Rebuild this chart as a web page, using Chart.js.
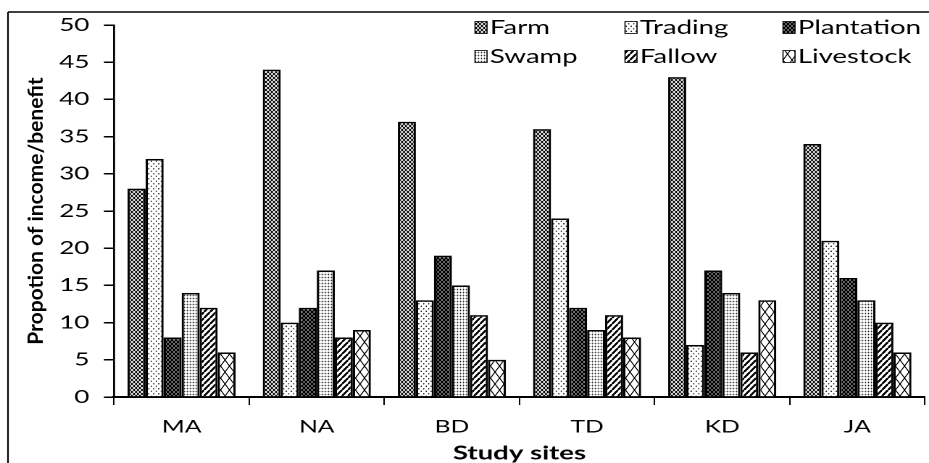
<!DOCTYPE html>
<html>
<head>
<meta charset="utf-8">
<title>Propotion of income/benefit by study site</title>
<script src="https://cdn.jsdelivr.net/npm/chart.js@4/dist/chart.umd.min.js"></script>
<style>
  html, body { margin: 0; padding: 0; background: #fff; overflow: hidden; }
  #chart { display: block; }
</style>
</head>
<body>
<canvas id="chart" width="641" height="463"></canvas>
<script>
// Study sites and the share of income/benefit from each source (%)
const sites      = ['MA', 'NA', 'BD', 'TD', 'KD', 'JA'];
const farm       = [28, 44, 37, 36, 43, 34];
const trading    = [32, 10, 13, 24,  7, 21];
const plantation = [ 8, 12, 19, 12, 17, 16];
const swamp      = [14, 17, 15,  9, 14, 13];
const fallow     = [12,  8, 11, 11,  6, 10];
const livestock  = [ 6,  9,  5,  8, 13,  6];
const seriesNames = ['Farm', 'Trading', 'Plantation', 'Swamp', 'Fallow', 'Livestock'];
const yTicks = { min: 0, max: 50, step: 5 };

// The canvas is drawn narrow and widened on screen (wide lettering);
// SX is that horizontal widening.
const SCREEN_W = 929, SCREEN_H = 463;
const SX = SCREEN_W / 641;
const RES = 4;

function makePattern(w, h, draw) {
  const cv = document.createElement('canvas');
  cv.width = w * RES; cv.height = h * RES;
  const g = cv.getContext('2d');
  g.scale(RES, RES);
  g.fillStyle = '#fff';
  g.fillRect(0, 0, w, h);
  g.strokeStyle = '#000';
  g.fillStyle = '#000';
  draw(g, w, h);
  const p = g.createPattern(cv, 'repeat');
  // keep the texture square on screen despite the widening
  p.setTransform(new DOMMatrix().scale(1 / (RES * SX), 1 / RES));
  return p;
}
function crossLines(g, w, h, lw) {
  g.lineWidth = lw;
  g.beginPath();
  for (const dx of [-w, 0, w]) {
    g.moveTo(dx, 0); g.lineTo(dx + w, h);
    g.moveTo(dx, h); g.lineTo(dx + w, 0);
  }
  g.stroke();
}

const fills = {
  Farm: makePattern(4, 4, (g, w, h) => crossLines(g, w, h, 0.9)),
  Trading: makePattern(5, 5, (g) => {
    g.beginPath(); g.arc(1.25, 1.25, 0.65, 0, Math.PI * 2); g.fill();
    g.beginPath(); g.arc(3.75, 3.75, 0.65, 0, Math.PI * 2); g.fill();
  }),
  Plantation: makePattern(4, 4, (g, w, h) => crossLines(g, w, h, 1.6)),
  Swamp: makePattern(3, 3, (g) => {
    g.fillStyle = '#b0b0b0';
    g.fillRect(0, 1, 3, 0.7);
    g.fillRect(1, 0, 0.7, 3);
    g.fillStyle = '#000';
    g.fillRect(1, 1, 0.8, 0.8);
  }),
  Fallow: makePattern(6, 6, (g, w, h) => {
    g.lineWidth = 2;
    g.beginPath();
    for (const dx of [-w, 0, w]) { g.moveTo(dx, h); g.lineTo(dx + w, 0); }
    g.stroke();
  }),
  Livestock: makePattern(9, 12, (g, w, h) => crossLines(g, w, h, 1))
};

const seriesValues = [farm, trading, plantation, swamp, fallow, livestock];

// Outer frame: top rule and left rule
const framePlugin = {
  id: 'frame',
  afterDraw(chart) {
    const c = chart.ctx;
    c.save();
    c.strokeStyle = '#000';
    c.lineWidth = 1.5;
    c.beginPath(); c.moveTo(5.5, 12); c.lineTo(chart.width, 12); c.stroke();
    c.lineWidth = 1.1;
    c.beginPath(); c.moveTo(5.5, 12); c.lineTo(5.5, chart.height); c.stroke();
    c.restore();
  }
};

// Vertical axis title, drawn un-widened
const yTitlePlugin = {
  id: 'yTitle',
  afterDraw(chart) {
    const c = chart.ctx, a = chart.chartArea;
    c.save();
    c.translate(36 / SX, (a.top + a.bottom) / 2);
    c.scale(1 / SX, 1);
    c.rotate(-Math.PI / 2);
    c.font = 'bold 21px Lato';
    c.fillStyle = '#000';
    c.textAlign = 'center';
    c.textBaseline = 'middle';
    c.fillText('Propotion of income/benefit', 0, 0);
    c.restore();
  }
};

// Two-row legend in the upper right
const legendPlugin = {
  id: 'gridLegend',
  afterDraw(chart) {
    const c = chart.ctx;
    const cols = [475, 625, 783].map(v => v / SX);
    const rows = [27.5, 56.5];
    const box = 12;
    c.save();
    c.font = '19px Lato';
    c.textBaseline = 'middle';
    c.textAlign = 'left';
    chart.data.datasets.forEach((ds, i) => {
      const x = cols[i % 3], y = rows[Math.floor(i / 3)];
      c.fillStyle = ds.backgroundColor;
      c.fillRect(x, y - box / 2, box / SX, box);
      c.strokeStyle = '#000';
      c.lineWidth = 0.8;
      c.strokeRect(x, y - box / 2, box / SX, box);
      c.fillStyle = '#000';
      c.fillText(ds.label, x + box / SX + 2, y + 0.5);
    });
    c.restore();
  }
};

const canvas = document.getElementById('chart');
new Chart(canvas, {
  type: 'bar',
  data: {
    labels: sites,
    datasets: seriesNames.map((name, i) => ({
      label: name,
      data: seriesValues[i],
      backgroundColor: fills[name],
      borderColor: '#000',
      borderWidth: 1.6,
      categoryPercentage: 0.8,
      barPercentage: 1.0
    }))
  },
  options: {
    responsive: false,
    animation: false,
    devicePixelRatio: 2,
    events: [],
    layout: { padding: { left: 0, right: 2.8, top: 25, bottom: 0 } },
    plugins: { legend: { display: false }, tooltip: { enabled: false } },
    scales: {
      x: {
        grid: { offset: true, drawOnChartArea: false, tickLength: 8, color: '#000', lineWidth: 1 },
        border: { color: '#000', width: 2 },
        ticks: { color: '#000', font: { family: 'Lato', size: 17 }, padding: 12 },
        title: {
          display: true, text: 'Study sites', color: '#000',
          font: { family: 'Lato', size: 19, weight: 'bold', lineHeight: 1 },
          padding: { top: 0, bottom: 0 }
        },
        afterFit(scale) { scale.height = 66; }
      },
      y: {
        min: yTicks.min, max: yTicks.max,
        ticks: { stepSize: yTicks.step, color: '#000', font: { family: 'Lato', size: 18 }, padding: 10 },
        grid: { drawOnChartArea: false, tickLength: 7, color: '#000', lineWidth: 1.5 },
        border: { color: '#000', width: 1.4 },
        afterFit(scale) { scale.width = 78.7; }
      }
    }
  },
  plugins: [framePlugin, yTitlePlugin, legendPlugin]
});

// widen the finished drawing to its on-screen size
canvas.style.width = SCREEN_W + 'px';
canvas.style.height = SCREEN_H + 'px';
</script>
</body>
</html>
